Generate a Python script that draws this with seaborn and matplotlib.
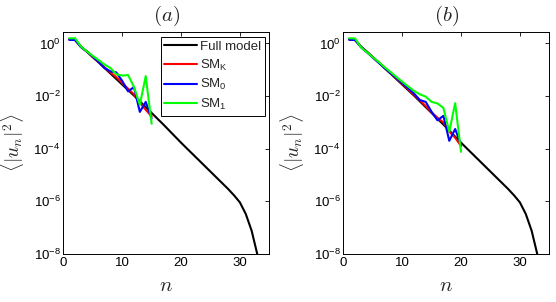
import numpy as np
import pandas as pd
import matplotlib
matplotlib.use("Agg")
import matplotlib.pyplot as plt
import seaborn as sns
from matplotlib.ticker import FixedLocator, FuncFormatter, NullLocator

sns.set_style("white")
plt.rcParams['font.family'] = ['Liberation Sans', 'DejaVu Sans']
plt.rcParams['mathtext.fontset'] = 'custom'
plt.rcParams['mathtext.rm'] = 'Liberation Sans'
plt.rcParams['mathtext.it'] = 'Liberation Sans:italic'
plt.rcParams['mathtext.bf'] = 'Liberation Sans:bold'

# ---- data ----
n_full = list(range(1, 34))
full_model = [1.48, 1.38, 0.759, 0.490, 0.302, 0.191, 0.117, 0.0724, 0.0447, 0.0275,
              0.0170, 0.0105, 6.31e-3, 3.80e-3, 2.29e-3, 1.38e-3, 8.32e-4, 4.90e-4,
              2.88e-4, 1.70e-4, 1.02e-4, 6.17e-5, 3.72e-5, 2.24e-5, 1.35e-5, 8.13e-6,
              4.90e-6, 2.95e-6, 1.70e-6, 9.12e-7, 3.31e-7, 7.59e-8, 8.91e-9]

n_a = list(range(1, 16))
smK_a = [1.41, 1.35, 0.741, 0.490, 0.309, 0.195, 0.123, 0.0794, 0.0525, 0.0316,
         0.0191, 0.0117, 5.62e-3, 3.02e-3, 1.70e-3]
sm0_a = [1.38, 1.35, 0.724, 0.501, 0.316, 0.200, 0.117, 0.0871, 0.0794, 0.0380,
         0.0151, 0.0219, 2.51e-3, 6.03e-3, 1.41e-3]
sm1_a = [1.58, 1.58, 0.759, 0.501, 0.339, 0.234, 0.158, 0.117, 0.0676, 0.0603,
         0.0631, 0.0224, 4.68e-3, 0.0575, 8.91e-4]

n_b = list(range(1, 21))
smK_b = [1.41, 1.35, 0.741, 0.479, 0.302, 0.191, 0.117, 0.0741, 0.0468, 0.0295,
         0.0182, 0.0112, 6.92e-3, 4.17e-3, 2.40e-3, 1.51e-3, 1.00e-3, 4.47e-4,
         2.63e-4, 1.26e-4]
sm0_b = [1.38, 1.35, 0.724, 0.468, 0.295, 0.186, 0.117, 0.0759, 0.0490, 0.0316,
         0.0200, 0.0126, 7.08e-3, 6.03e-3, 2.51e-3, 1.20e-3, 1.78e-3, 2.00e-4,
         5.62e-4, 1.41e-4]
sm1_b = [1.58, 1.55, 0.708, 0.468, 0.302, 0.200, 0.126, 0.0832, 0.0537, 0.0355,
         0.0234, 0.0158, 0.0117, 9.55e-3, 6.03e-3, 5.25e-3, 3.55e-3, 4.47e-4,
         5.37e-3, 7.59e-5]

models = ['Full model', 'SM$_\\mathrm{K}$', 'SM$_0$', 'SM$_1$']
colors = ['#000000', '#ff0000', '#0000ff', '#00ff00']
titles = ['$(a)$', '$(b)$']
y_ticks = [1e-8, 1e-6, 1e-4, 1e-2, 1e0]
x_ticks = [0, 10, 20, 30]


def make_df(n_sm, smK, sm0, sm1):
    parts = [pd.DataFrame({'n': n_full, 'E': full_model, 'model': models[0]}),
             pd.DataFrame({'n': n_sm, 'E': smK, 'model': models[1]}),
             pd.DataFrame({'n': n_sm, 'E': sm0, 'model': models[2]}),
             pd.DataFrame({'n': n_sm, 'E': sm1, 'model': models[3]})]
    return pd.concat(parts, ignore_index=True)


dfs = [make_df(n_a, smK_a, sm0_a, sm1_a), make_df(n_b, smK_b, sm0_b, sm1_b)]

fig = plt.figure(figsize=(5.56, 3.02), dpi=100)
axes = [fig.add_axes([0.1139, 0.159, 0.3705, 0.736]),
        fig.add_axes([0.6175, 0.159, 0.3705, 0.736])]

def fmt(v, pos):
    e = int(round(np.log10(v)))
    return '10$^{%d}$' % e

for i, ax in enumerate(axes):
    ax.set_yscale('log')
    sns.lineplot(data=dfs[i], x='n', y='E', hue='model', hue_order=models,
                 palette=dict(zip(models, colors)), estimator=None, sort=False,
                 linewidth=1.5, legend=False, ax=ax)
    ax.set_xlim(0, 35)
    ax.set_ylim(1e-8, 2.8)
    ax.xaxis.set_major_locator(FixedLocator(x_ticks))
    ax.yaxis.set_major_locator(FixedLocator(y_ticks))
    ax.yaxis.set_minor_locator(NullLocator())
    ax.yaxis.set_major_formatter(FuncFormatter(fmt))
    ax.tick_params(direction='in', length=3, width=0.6, top=True, right=True,
                   labelsize=9.5, colors='black', pad=2)
    for s in ax.spines.values():
        s.set_color('black')
        s.set_linewidth(0.7)
    ax.set_title(titles[i], fontsize=15, pad=8, math_fontfamily='cm')
    ax.set_xlabel('$n$', fontsize=15, math_fontfamily='cm', labelpad=5)
    ax.set_ylabel('$\\langle |u_n|^2 \\rangle$', fontsize=14,
                  math_fontfamily='cm')
    ax.yaxis.set_label_coords(-0.18, 0.5)

leg = axes[0].legend(axes[0].get_lines()[:4], models, loc='upper right',
                     bbox_to_anchor=(0.98, 0.977), borderaxespad=0,
                     fontsize=9.5, frameon=True, fancybox=False, framealpha=1,
                     edgecolor='black', handlelength=2.5, handletextpad=0.2,
                     labelspacing=0.35, borderpad=0.3)
leg.get_frame().set_linewidth(0.7)

fig.savefig('out.png', dpi=100)
